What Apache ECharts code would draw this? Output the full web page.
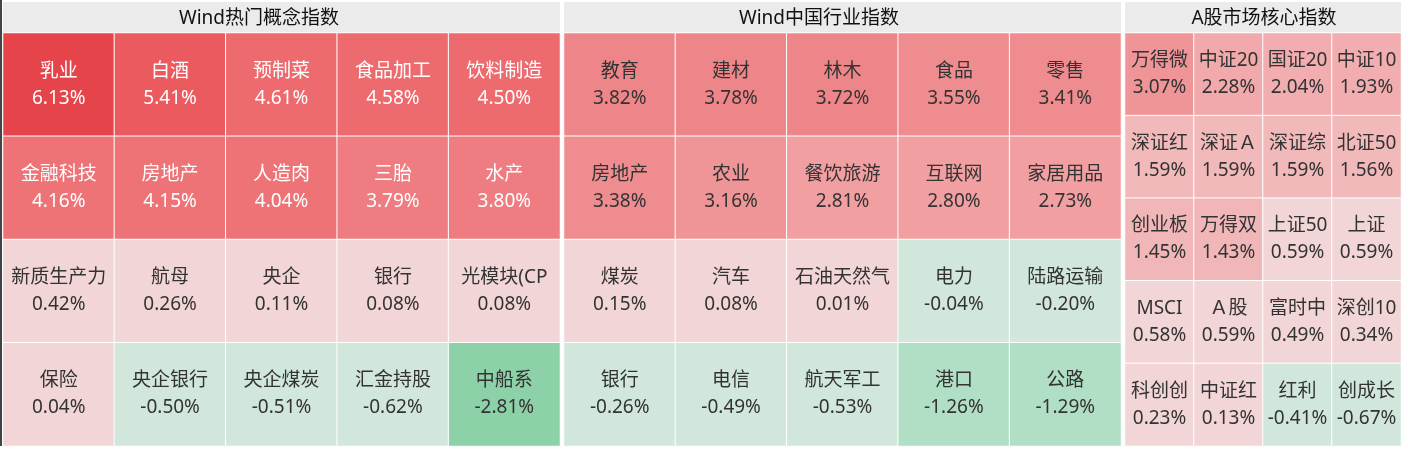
<!DOCTYPE html>
<html>
<head>
<meta charset="utf-8">
<script src="https://cdn.jsdelivr.net/npm/echarts@6/dist/echarts.min.js"></script>
<style>
html,body{margin:0;padding:0;background:#fff;}
#c{width:1408px;height:451px;}
</style>
</head>
<body>
<div id="c"></div>
<script>
// ---- data ----
const titles = ['Wind热门概念指数', 'Wind中国行业指数', 'A股市场核心指数'];

const conceptNames = ['乳业','白酒','预制菜','食品加工','饮料制造',
  '金融科技','房地产','人造肉','三胎','水产',
  '新质生产力','航母','央企','银行','光模块(CP',
  '保险','央企银行','央企煤炭','汇金持股','中船系'];
const conceptValues = [6.13,5.41,4.61,4.58,4.50,
  4.16,4.15,4.04,3.79,3.80,
  0.42,0.26,0.11,0.08,0.08,
  0.04,-0.50,-0.51,-0.62,-2.81];

const industryNames = ['教育','建材','林木','食品','零售',
  '房地产','农业','餐饮旅游','互联网','家居用品',
  '煤炭','汽车','石油天然气','电力','陆路运输',
  '银行','电信','航天军工','港口','公路'];
const industryValues = [3.82,3.78,3.72,3.55,3.41,
  3.38,3.16,2.81,2.80,2.73,
  0.15,0.08,0.01,-0.04,-0.20,
  -0.26,-0.49,-0.53,-1.26,-1.29];

const coreNames = ['万得微','中证20','国证20','中证10',
  '深证红','深证Ａ','深证综','北证50',
  '创业板','万得双','上证50','上证',
  'MSCI','Ａ股','富时中','深创10',
  '科创创','中证红','红利','创成长'];
const coreValues = [3.07,2.28,2.04,1.93,
  1.59,1.59,1.59,1.56,
  1.45,1.43,0.59,0.59,
  0.58,0.59,0.49,0.34,
  0.23,0.13,-0.41,-0.67];

// ---- layout ----
const panels = [
  {names: conceptNames, values: conceptValues, cols: 5, rows: 4, left: 3, width: 557, titleX: 259, whiteAbove: 3.5},
  {names: industryNames, values: industryValues, cols: 5, rows: 4, left: 564, width: 557, titleX: 819, whiteAbove: 99},
  {names: coreNames, values: coreValues, cols: 4, rows: 5, left: 1125, width: 276, titleX: 1264, whiteAbove: 99}
];
const TOP = 33, HEIGHT = 413, BAR_TOP = 2;
const FONT = '"Noto Sans","Noto Sans CJK SC","Microsoft YaHei",sans-serif';

const grids = [], xAxes = [], yAxes = [], series = [], titleOpts = [], graphics = [];
panels.forEach((p, i) => {
  grids.push({left: p.left, top: TOP, width: p.width, height: HEIGHT});
  xAxes.push({type: 'category', gridIndex: i, data: Array.from({length: p.cols}, (_, k) => k), show: false});
  yAxes.push({type: 'category', gridIndex: i, data: Array.from({length: p.rows}, (_, k) => k), show: false, inverse: true});
  const data = p.values.map((v, k) => ({
    value: [k % p.cols, Math.floor(k / p.cols), v],
    name: p.names[k],
    label: {color: v >= p.whiteAbove ? '#ffffff' : '#333333'}
  }));
  series.push({
    type: 'heatmap', xAxisIndex: i, yAxisIndex: i, data: data,
    itemStyle: {borderColor: '#ffffff', borderWidth: 1},
    label: {
      show: true, fontFamily: FONT, fontSize: 19, lineHeight: 27,
      formatter: (prm) => prm.name + '\n' + prm.value[2].toFixed(2) + '%'
    },
    emphasis: {disabled: true}
  });
  graphics.push({type: 'rect', shape: {x: p.left, y: BAR_TOP, width: p.width, height: TOP - BAR_TOP - 1}, style: {fill: '#ebebeb'}, silent: true});
  titleOpts.push({
    text: titles[i], left: p.titleX, top: BAR_TOP + 2, textAlign: 'center',
    padding: 0,
    textStyle: {fontFamily: FONT, fontSize: 19, fontWeight: 'normal', color: '#111', lineHeight: 30}
  });
});
graphics.push({type: 'rect', shape: {x: 0, y: 0, width: 2, height: 446}, style: {fill: '#444'}, silent: true});

const negPieces = [
  {gte: -1, lt: 0, color: '#d1e7dc'},
  {gte: -2, lt: -1, color: '#b1dfc5'},
  {lt: -2, color: '#8dd1a9'}
];
const option = {
  animation: false,
  backgroundColor: '#ffffff',
  title: titleOpts,
  grid: grids,
  xAxis: xAxes,
  yAxis: yAxes,
  graphic: {elements: graphics},
  visualMap: [
    {type: 'piecewise', show: false, seriesIndex: 0, dimension: 2, pieces: [
      {gte: 6, color: '#e6444b'},
      {gte: 5, lt: 6, color: '#ea5a5f'},
      {gte: 4.3, lt: 5, color: '#ed6b6f'},
      {gte: 3.9, lt: 4.3, color: '#ee7377'},
      {gte: 3.5, lt: 3.9, color: '#ef7c80'},
      {gte: 0, lt: 3.5, color: '#f2d5d6'}
    ].concat(negPieces)},
    {type: 'piecewise', show: false, seriesIndex: [1, 2], dimension: 2, pieces: [
      {gte: 3.7, color: '#ee8689'},
      {gte: 3.3, lt: 3.7, color: '#ef8c8f'},
      {gte: 3.0, lt: 3.3, color: '#f09597'},
      {gte: 2.5, lt: 3.0, color: '#f19fa1'},
      {gte: 2.2, lt: 2.5, color: '#f1a9ab'},
      {gte: 1.9, lt: 2.2, color: '#f1adaf'},
      {gte: 1.5, lt: 1.9, color: '#f2b9ba'},
      {gte: 1.0, lt: 1.5, color: '#f1b6b8'},
      {gte: 0, lt: 1.0, color: '#f2d5d6'}
    ].concat(negPieces)}
  ],
  series: series
};
const chart = echarts.init(document.getElementById('c'), null, {renderer: 'canvas'});
chart.setOption(option);
</script>
</body>
</html>
